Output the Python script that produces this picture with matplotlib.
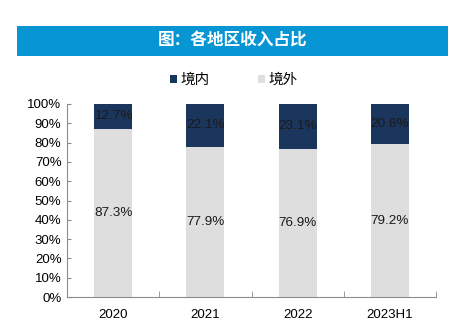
import matplotlib
matplotlib.use('Agg')
import numpy as np
from matplotlib import pyplot as plt
from matplotlib.patches import Rectangle

plt.rcParams['font.family'] = ['Liberation Sans', 'Noto Sans CJK SC', 'DejaVu Sans']

# revenue share by region
years = ['2020', '2021', '2022', '2023H1']
domestic = [12.7, 22.1, 23.1, 20.8]   # 境内
overseas = [87.3, 77.9, 76.9, 79.2]   # 境外
title = '图：各地区收入占比'

dark = '#1b365d'
light = '#dedede'
axis_grey = '#8c8c8c'

W, H = 462, 332
fig = plt.figure(figsize=(W / 100, H / 100), dpi=100)
fig.patch.set_facecolor('white')

# title banner
fig.patches.append(Rectangle((17 / W, 1 - 56 / H), 431 / W, 30 / H,
                             transform=fig.transFigure, facecolor='#0795d3',
                             edgecolor='none'))
fig.text(233 / W, 1 - 41 / H, title, color='white', fontsize=12, fontweight='bold',
         ha='center', va='center', family=['Noto Sans CJK SC', 'DejaVu Sans'])

ax = fig.add_axes([67 / W, 1 - 297 / H, 369 / W, 193 / H])
x = np.arange(len(years))
bw = 0.41
b1 = ax.bar(x, overseas, bw, color=light, label='境外', zorder=2)
b2 = ax.bar(x, domestic, bw, bottom=overseas, color=dark, label='境内', zorder=2)

for i in range(len(years)):
    ax.text(x[i], overseas[i] / 2, '%.1f%%' % overseas[i], ha='center', va='center',
            fontsize=9.7, color='#1a1a1a', zorder=3)
    ax.text(x[i], overseas[i] + domestic[i] / 2, '%.1f%%' % domestic[i], ha='center',
            va='center', fontsize=9.7, color='#1a1a1a', zorder=3)

ax.set_xlim(-0.5, len(years) - 0.5)
ax.set_ylim(0, 100)
ax.set_yticks(np.arange(0, 101, 10))
ax.set_yticklabels(['%d%%' % v for v in range(0, 101, 10)], fontsize=9.5)
ax.set_xticks(x)
ax.set_xticklabels(years, fontsize=9.5)
ax.set_xticks(np.arange(0.5, len(years)), minor=True)
ax.tick_params(axis='x', which='major', length=0, pad=9)
ax.tick_params(axis='x', which='minor', direction='in', length=4, color=axis_grey)
ax.tick_params(axis='y', direction='in', length=3, color=axis_grey, pad=4)

for s in ['top', 'right']:
    ax.spines[s].set_visible(False)
for s in ['left', 'bottom']:
    ax.spines[s].set_color(axis_grey)
    ax.spines[s].set_linewidth(0.8)

leg = fig.legend(handles=[b2, b1], labels=['境内', '境外'], loc='center',
                 bbox_to_anchor=(234 / W, 1 - 80 / H), ncol=2, frameon=False,
                 handlelength=0.45, handleheight=0.45, handletextpad=0.25,
                 columnspacing=3.3, prop={'family': ['Noto Sans CJK SC', 'DejaVu Sans'], 'size': 10.5})

fig.savefig('out.png', dpi=100, facecolor='white')
